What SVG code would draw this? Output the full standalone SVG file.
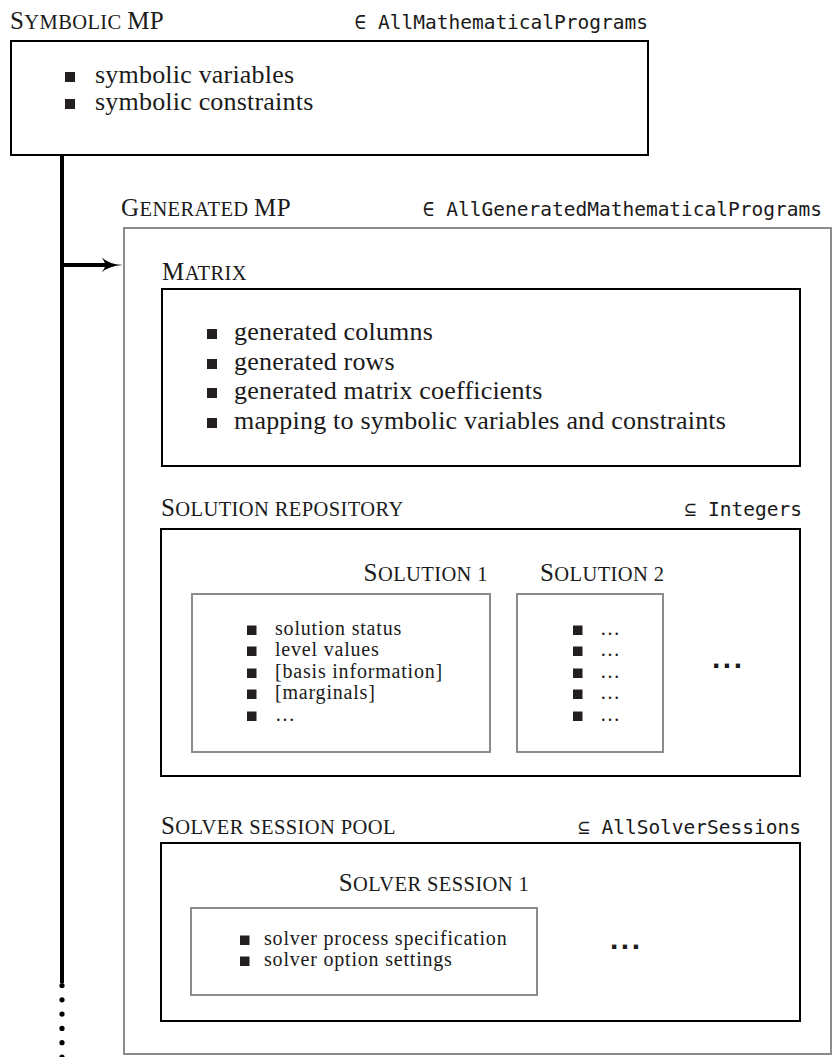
<svg xmlns="http://www.w3.org/2000/svg" width="833" height="1057" viewBox="0 0 833 1057">
<defs>
<style>
.bg{fill:#fff}
.box{fill:none;stroke:#000;stroke-width:2}
.gbox{fill:none;stroke:#8c8c8c;stroke-width:2}
.title{font-family:"Liberation Serif",serif;fill:#1a1a1a;letter-spacing:0.4px}
.cap{font-size:25px}
.sc{font-size:20.5px}
.mono{font-family:"DejaVu Sans Mono",monospace;font-size:19.5px;fill:#1a1a1a;text-anchor:end}
.item{font-family:"Liberation Serif",serif;font-size:26px;fill:#1a1a1a;letter-spacing:0.2px}
.sitem{font-family:"Liberation Serif",serif;font-size:20px;fill:#1a1a1a;letter-spacing:0.8px}
.sq{fill:#231f20}
.conn{stroke:#000;stroke-width:4;fill:none}
.dot{fill:#000}
.dots{font-family:"Liberation Sans",sans-serif;font-weight:bold;font-size:30px;fill:#1a1a1a;letter-spacing:2.5px}
</style>
</defs>
<rect class="bg" x="0" y="0" width="833" height="1057"/>

<g id="connectors">
<line class="conn" x1="62" y1="155" x2="62" y2="983"/>
<circle class="dot" cx="62" cy="985.5" r="2.6"/>
<circle class="dot" cx="62" cy="999.8" r="2.6"/>
<circle class="dot" cx="62" cy="1014.1" r="2.6"/>
<circle class="dot" cx="62" cy="1028.4" r="2.6"/>
<circle class="dot" cx="62" cy="1042.7" r="2.6"/>
<circle class="dot" cx="62" cy="1057" r="2.6"/>
<line class="conn" x1="62" y1="265" x2="110" y2="265"/>
<path d="M102,257.5 Q108,264 123,265 Q108,266 102,272.5 L106,265 Z" fill="#000"/>
</g>

<g id="symbolic-mp">
<text class="title" x="10" y="29"><tspan class="cap">S</tspan><tspan class="sc">YMBOLIC </tspan><tspan class="cap">MP</tspan></text>
<text class="mono" x="648" y="29">∈ AllMathematicalPrograms</text>
<rect class="box" x="11" y="41" width="637" height="114"/>
<rect class="sq" x="65" y="72" width="10" height="10"/>
<text class="item" x="95" y="83">symbolic variables</text>
<rect class="sq" x="65" y="99" width="10" height="10"/>
<text class="item" x="95" y="110">symbolic constraints</text>
</g>

<g id="generated-mp">
<text class="title" x="121" y="216"><tspan class="cap">G</tspan><tspan class="sc">ENERATED </tspan><tspan class="cap">MP</tspan></text>
<text class="mono" x="822" y="216">∈ AllGeneratedMathematicalPrograms</text>
<rect class="gbox" x="124" y="228" width="707" height="826"/>
</g>

<g id="matrix">
<text class="title" x="162" y="280"><tspan class="cap">M</tspan><tspan class="sc">ATRIX</tspan></text>
<rect class="box" x="162" y="289" width="638" height="177"/>
<rect class="sq" x="207" y="329" width="10" height="10"/>
<text class="item" x="234" y="340">generated columns</text>
<rect class="sq" x="207" y="359" width="10" height="10"/>
<text class="item" x="234" y="370">generated rows</text>
<rect class="sq" x="207" y="388" width="10" height="10"/>
<text class="item" x="234" y="399">generated matrix coefficients</text>
<rect class="sq" x="207" y="418" width="10" height="10"/>
<text class="item" x="234" y="429">mapping to symbolic variables and constraints</text>
</g>

<g id="solution-repository">
<text class="title" x="161" y="516"><tspan class="cap">S</tspan><tspan class="sc">OLUTION REPOSITORY</tspan></text>
<text class="mono" x="802" y="516">⊆ Integers</text>
<rect class="box" x="161" y="529" width="639" height="247"/>
<text class="dots" x="712" y="668">...</text>
</g>

<g id="solution-1">
<text class="title" x="488" y="581" text-anchor="end"><tspan class="cap">S</tspan><tspan class="sc">OLUTION 1</tspan></text>
<rect class="gbox" x="192" y="594" width="298" height="158"/>
<rect class="sq" x="247" y="625.5" width="9.5" height="9.5"/>
<text class="sitem" x="275" y="635">solution status</text>
<rect class="sq" x="247" y="646.5" width="9.5" height="9.5"/>
<text class="sitem" x="275" y="656">level values</text>
<rect class="sq" x="247" y="668.5" width="9.5" height="9.5"/>
<text class="sitem" x="275" y="678">[basis information]</text>
<rect class="sq" x="247" y="689.5" width="9.5" height="9.5"/>
<text class="sitem" x="275" y="699">[marginals]</text>
<rect class="sq" x="247" y="711.5" width="9.5" height="9.5"/>
<text class="sitem" x="275" y="721">…</text>
</g>

<g id="solution-2">
<text class="title" x="540" y="581"><tspan class="cap">S</tspan><tspan class="sc">OLUTION 2</tspan></text>
<rect class="gbox" x="517" y="594" width="146" height="158"/>
<rect class="sq" x="573" y="625.5" width="9.5" height="9.5"/>
<text class="sitem" x="600" y="635">…</text>
<rect class="sq" x="573" y="646.5" width="9.5" height="9.5"/>
<text class="sitem" x="600" y="656">…</text>
<rect class="sq" x="573" y="668.5" width="9.5" height="9.5"/>
<text class="sitem" x="600" y="678">…</text>
<rect class="sq" x="573" y="689.5" width="9.5" height="9.5"/>
<text class="sitem" x="600" y="699">…</text>
<rect class="sq" x="573" y="711.5" width="9.5" height="9.5"/>
<text class="sitem" x="600" y="721">…</text>
</g>

<g id="solver-session-pool">
<text class="title" x="161" y="834"><tspan class="cap">S</tspan><tspan class="sc">OLVER SESSION POOL</tspan></text>
<text class="mono" x="801" y="834">⊆ AllSolverSessions</text>
<rect class="box" x="161" y="843" width="639" height="178"/>
<text class="dots" x="610" y="949">...</text>
</g>

<g id="solver-session-1">
<text class="title" x="434" y="891" text-anchor="middle"><tspan class="cap">S</tspan><tspan class="sc">OLVER SESSION 1</tspan></text>
<rect class="gbox" x="191" y="908" width="346" height="87"/>
<rect class="sq" x="240" y="935.5" width="9.5" height="9.5"/>
<text class="sitem" x="264" y="945">solver process specification</text>
<rect class="sq" x="240" y="956.5" width="9.5" height="9.5"/>
<text class="sitem" x="264" y="966">solver option settings</text>
</g>
</svg>
